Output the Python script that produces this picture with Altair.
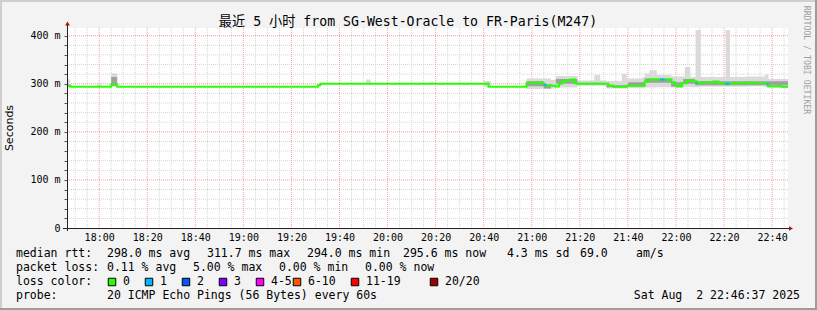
import altair as alt
import pandas as pd

# ---------------- data ----------------
T_START = "17:46:37"
T_END = "22:46:37"

# median RTT (ms), step series: value holds from this time to the next
med_time = ["17:46:37", "17:48", "18:05", "18:07:30", "19:31", "19:32", "20:42",
            "20:57:50", "21:00:40", "21:04", "21:05:30", "21:08:10", "21:10",
            "21:11:20", "21:12:30", "21:13:50", "21:16", "21:18", "21:18:45",
            "21:31:50", "21:34", "21:39:20", "21:47", "21:48:30", "21:58:10",
            "21:59:40", "22:00:20", "22:02:20", "22:04:30", "22:06:30", "22:08:40",
            "22:10", "22:15:30", "22:17:40", "22:20:20", "22:22:20", "22:29:20",
            "22:31:30", "22:38:20", "22:44", "22:46:37"]
med_val = [296, 294, 298.5, 294, 297, 300, 294,
           301, 302.6, 300, 297, 295.7, 294.3,
           300, 304, 306.7, 308.8, 301, 300,
           296.4, 294, 296, 304.7, 308.8, 303,
           296.4, 294.3, 301, 306.7, 305, 301,
           303, 304.7, 301, 300, 301, 302,
           301, 295, 294, 294]

# stretches where 1 of 20 pings was lost (drawn in the "1" colour)
loss1_start = ["21:04:50", "21:53:20", "22:08:10", "22:20:20", "22:37:40"]
loss1_end = ["21:06:10", "21:55:20", "22:09:00", "22:22:20", "22:38:30"]
loss1_val = [297, 308.8, 301, 300, 299]

# outer smoke (all pings), step series
smoke_time = ["17:46:37", "17:48", "17:59", "18:01", "18:05", "18:07:30", "19:51",
              "19:53", "20:18", "20:19", "20:40", "20:43", "20:57:50", "21:08",
              "21:10", "21:19", "21:26", "21:28:30", "21:31", "21:37:30", "21:39:30",
              "21:46", "21:47", "21:49", "21:52", "21:58", "22:03:40", "22:06",
              "22:08:10", "22:10:20", "22:20:40", "22:22:30", "22:29", "22:37",
              "22:38:30", "22:46:37"]
smoke_lo = [294, 294, 294, 294, 294, 294, 300,
            300, 300, 300, 294, 294, 289, 290,
            292, 296, 296, 296, 290, 290, 291,
            291, 292, 292, 293, 292, 293, 293,
            293, 294, 294, 294, 295, 293,
            291, 291]
smoke_hi = [309, 294, 301, 294, 322, 294, 309,
            300, 304, 300, 306, 294, 311, 308,
            316, 307, 318, 307, 306, 321, 311,
            314, 322, 328, 318, 315, 335, 314,
            412, 314, 412, 314, 315, 319,
            310, 310]

# inner (denser) smoke
dark_time = ["17:46:37", "18:05", "18:07:30", "20:57:50", "21:05", "21:08", "21:10",
             "21:19", "21:31", "21:40", "21:47", "21:58", "22:03", "22:08", "22:46:37"]
dark_lo = [294, 296, 294, 295, 290, 294, 300, 299, 293, 295, 302, 294, 300, 297, 297]
dark_hi = [294, 314, 294, 305, 298, 294, 310, 302, 297, 303, 311, 303, 310, 305, 305]

title_text = "最近 5 小时 from SG-West-Oracle to FR-Paris(M247)"
rtt_stats = ["median rtt:", "298.0 ms avg", "311.7 ms max", "294.0 ms min",
             "295.6 ms now", "4.3 ms sd", "69.0", "am/s"]
loss_stats = ["packet loss:", "0.11 % avg", "5.00 % max", "0.00 % min", "0.00 % now"]
loss_head = "loss color:"
loss_labels = ["0", "1", "2", "3", "4-5", "6-10", "11-19", "20/20"]
loss_colors = ["#26ff00", "#00b8ff", "#0059ff", "#7e00ff", "#ff00ff",
               "#ff5500", "#ff0000", "#a10000"]
probe_row = ["probe:", "20 ICMP Echo Pings (56 Bytes) every 60s"]
stamp = "Sat Aug\u00a0 2 22:46:37 2025"
y_label = "Seconds"
watermark = "RRDTOOL / TOBI OETIKER"

# ---------------- layout (pixels) ----------------
OX, OY = 67, 28
W, H = 721, 200
rtt_x = [16, 107, 207, 307, 403, 507, 580, 636]
loss_x = [16, 107, 193, 279, 365]
swatch_x = [112, 149, 186, 223, 260, 297, 355, 434]
swatch_label_x = [123, 160, 197, 234, 271, 308, 366, 445]
row_y = [254, 268, 282, 296]
MONO = "DejaVu Sans Mono"


def mins(s):
    p = [int(v) for v in s.split(":")]
    return p[0] * 60 + p[1] + (p[2] / 60 if len(p) > 2 else 0)


t0, t1 = mins(T_START), mins(T_END)
med_df = pd.DataFrame({"t": [mins(s) for s in med_time], "v": med_val})
smoke_df = pd.DataFrame({"t": [mins(s) for s in smoke_time], "lo": smoke_lo, "hi": smoke_hi})
dark_df = pd.DataFrame({"t": [mins(s) for s in dark_time], "lo": dark_lo, "hi": dark_hi})
rows = []
for i, (a, b, v) in enumerate(zip(loss1_start, loss1_end, loss1_val)):
    rows.append({"t": mins(a), "v": v, "seg": i})
    rows.append({"t": mins(b), "v": v, "seg": i})
loss1_df = pd.DataFrame(rows)

major_x = list(range(1080, 1361, 20))
minor_x = [m for m in range(1070, 1366, 5) if m % 20 != 0]
major_y = [100, 200, 300, 400]
minor_y = [v for v in range(20, 401, 20) if v % 100 != 0]

xscale = alt.Scale(domain=[t0, t1], nice=False, zero=False)
yscale = alt.Scale(domain=[0, 416], nice=False, zero=True)
xaxis = alt.Axis(values=major_x, title=None, grid=False, domain=False, ticks=False,
                 labelExpr="floor(datum.value/60) + ':' + (datum.value % 60 < 10 ? '0' : '') + (datum.value % 60)",
                 labelFont=MONO, labelFontSize=10, labelColor="#000000", labelPadding=4,
                 labelFlush=False)
yaxis = alt.Axis(values=list(range(0, 401, 20)), title=None, grid=False, domain=False,
                 ticks=True, tickSize=3, tickColor="#555555",
                 labelExpr="datum.value % 100 == 0 ? (datum.value == 0 ? '0' : datum.value + ' m') : ''",
                 labelFont=MONO, labelFontSize=10, labelColor="#000000", labelPadding=4,
                 labelFlush=False)
X = alt.X("t:Q", scale=xscale, axis=xaxis)

one = pd.DataFrame({"a": [0]})

layers = []
# grid
layers.append(alt.Chart(pd.DataFrame({"t": minor_x})).mark_rule(
    color="#d4d4d4", strokeDash=[1, 1], strokeWidth=1).encode(x=X))
layers.append(alt.Chart(pd.DataFrame({"v": minor_y})).mark_rule(
    color="#d4d4d4", strokeDash=[1, 1], strokeWidth=1).encode(
    y=alt.Y("v:Q", scale=yscale, axis=yaxis)))
layers.append(alt.Chart(pd.DataFrame({"t": major_x})).mark_rule(
    color="#ff9c9c", strokeDash=[1, 1], strokeWidth=1).encode(x=X))
layers.append(alt.Chart(pd.DataFrame({"v": major_y})).mark_rule(
    color="#ff9c9c", strokeDash=[1, 1], strokeWidth=1).encode(
    y=alt.Y("v:Q", scale=yscale, axis=yaxis)))
# smoke
layers.append(alt.Chart(smoke_df).mark_area(interpolate="step-after", color="#dadada").encode(
    x=X, y=alt.Y("lo:Q", scale=yscale, axis=yaxis), y2="hi:Q"))
layers.append(alt.Chart(dark_df).mark_area(interpolate="step-after", color="#a0a0a0").encode(
    x=X, y=alt.Y("lo:Q", scale=yscale, axis=yaxis), y2="hi:Q"))
# median
layers.append(alt.Chart(med_df).mark_line(interpolate="step-after", color=loss_colors[0],
                                          strokeWidth=2).encode(
    x=X, y=alt.Y("v:Q", scale=yscale, axis=yaxis)))
layers.append(alt.Chart(loss1_df).mark_line(interpolate="step-after", color=loss_colors[1],
                                            strokeWidth=2).encode(
    x=X, y=alt.Y("v:Q", scale=yscale, axis=yaxis), detail="seg:N"))


def box(x1, y1, x2, y2, color):
    return alt.Chart(one).mark_rect(color=color).encode(
        x=alt.value(x1 - OX), x2=alt.value(x2 - OX), y=alt.value(y1 - OY), y2=alt.value(y2 - OY))


def rule(x1, y1, x2, y2, color, w=1):
    return alt.Chart(one).mark_rule(color=color, strokeWidth=w).encode(
        x=alt.value(x1 - OX), x2=alt.value(x2 - OX), y=alt.value(y1 - OY), y2=alt.value(y2 - OY))


def txt(s, ax, ay, size=11.5, align="left", font=MONO, color="#000000", angle=0):
    return alt.Chart(one).mark_text(text=s, align=align, baseline="middle", font=font,
                                    fontSize=size, color=color, angle=angle).encode(
        x=alt.value(ax - OX), y=alt.value(ay - OY))


# axes lines and arrows
layers.append(rule(63, 228.5, 790, 228.5, "#222222"))
layers.append(rule(67.5, 24, 67.5, 231, "#222222"))
layers.append(alt.Chart(one).mark_point(shape="triangle-up", filled=True, size=22,
                                        color="#a01515", opacity=1).encode(
    x=alt.value(67.5 - OX), y=alt.value(23.5 - OY)))
layers.append(alt.Chart(one).mark_point(shape="triangle-right", filled=True, size=22,
                                        color="#a01515", opacity=1).encode(
    x=alt.value(791 - OX), y=alt.value(228.5 - OY)))

# frame
layers.append(box(0, 0, 817, 2, "#cfcfcf"))
layers.append(box(0, 0, 2, 310, "#cfcfcf"))
layers.append(box(0, 308, 817, 310, "#9c9c9c"))
layers.append(box(815, 0, 817, 310, "#9c9c9c"))

# texts
layers.append(txt(title_text, 408, 21.5, size=13.2, align="center",
                  font="DejaVu Sans Mono, Noto Sans CJK SC"))
layers.append(txt(y_label, 10, 128, size=11, align="center", font="DejaVu Sans", angle=270))
layers.append(txt(watermark, 806, 60, size=8.2, align="center", color="#9e9e9e", angle=90))
for s, x in zip(rtt_stats, rtt_x):
    layers.append(txt(s, x, row_y[0]))
for s, x in zip(loss_stats, loss_x):
    layers.append(txt(s, x, row_y[1]))
layers.append(txt(loss_head, 16, row_y[2]))
for lab, col, bx, lx in zip(loss_labels, loss_colors, swatch_x, swatch_label_x):
    layers.append(alt.Chart(one).mark_square(size=56, color=col, filled=True, stroke="#000000",
                                             strokeWidth=1, opacity=1).encode(
        x=alt.value(bx - OX), y=alt.value(row_y[2] - OY)))
    layers.append(txt(lab, lx, row_y[2]))
layers.append(txt(probe_row[0], 16, row_y[3]))
layers.append(txt(probe_row[1], 107, row_y[3]))
layers.append(txt(stamp, 800, row_y[3], align="right"))

chart = alt.layer(*layers).properties(
    width=W, height=H, autosize="none",
    padding={"left": OX, "top": OY, "right": 817 - OX - W, "bottom": 310 - OY - H},
    background="#f3f3f3",
).configure_view(fill="white", stroke=None)

chart.save("out.html", embed_options={"renderer": "svg", "actions": False})
